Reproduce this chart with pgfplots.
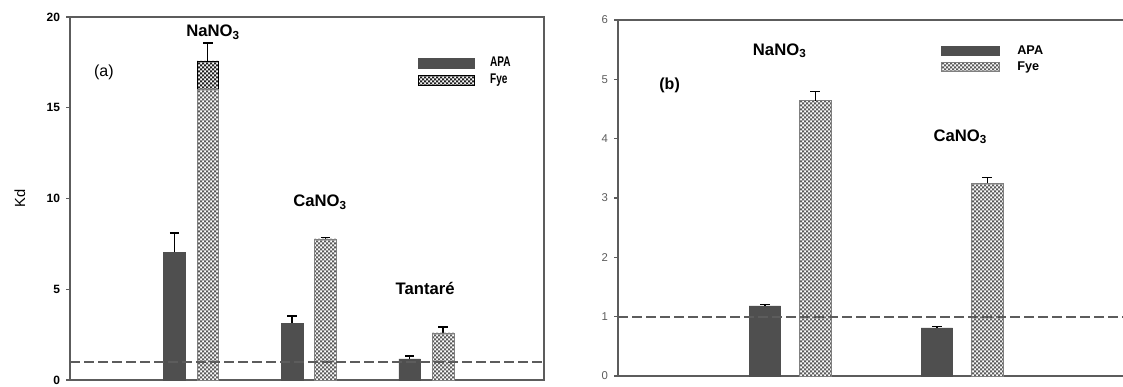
\documentclass[border=0pt]{standalone}
\usepackage{fontspec}
\setmainfont{Liberation Sans}
\newfontfamily\narrowsans[FakeStretch=0.72]{Liberation Sans}
\usepackage{pgfplots}
\pgfplotsset{compat=1.18}
\usetikzlibrary{patterns}

\definecolor{apa}{HTML}{4F4F4F}
\definecolor{axisgray}{HTML}{5C5C5C}
\definecolor{fyedot}{HTML}{5A5A5A}
\definecolor{fyedark}{HTML}{1E1E1E}

% fine checkerboard used for the Fye bars
\pgfdeclarepatternformonly{fyechecker}{\pgfpoint{-0.1pt}{-0.1pt}}{\pgfpoint{3.1pt}{3.1pt}}{\pgfpoint{3pt}{3pt}}{%
  \pgfpathrectangle{\pgfpointorigin}{\pgfpoint{1.5pt}{1.5pt}}%
  \pgfpathrectangle{\pgfpoint{1.5pt}{1.5pt}}{\pgfpoint{1.5pt}{1.5pt}}%
  \pgfusepath{fill}}

\pgfplotsset{
  kdpanel/.style={
    scale only axis,
    axis line style={axisgray, line width=1.2pt},
    xtick=\empty,
    ytick pos=left,
    tick align=outside,
    major tick length=3pt,
    tick style={axisgray, line width=0.8pt},
    ymin=0,
    clip=false,
    /pgf/number format/assume math mode=true,
    legend style={draw=none, fill=none, anchor=north west,
      inner sep=0pt, row sep=0pt,
      /tikz/every odd column/.append style={column sep=9.5pt}},
    legend cell align=left,
    error bars/y dir=plus,
    error bars/y explicit,
    error bars/error bar style={black, line width=0.9pt},
    error bars/error mark options={rotate=90, black, mark size=3.5pt, line width=0.9pt},
  },
  apabar/.style={ybar, bar shift=0pt, bar width=0.183, fill=apa, draw=apa},
  fyebar/.style={ybar, bar shift=0pt, bar width=0.183, draw=gray, line width=0.4pt,
    fill=white, postaction={pattern=fyechecker, pattern color=fyedot}},
  fyedarkbar/.style={ybar, bar shift=0pt, bar width=0.183, draw=black, line width=0.5pt,
    fill=white, postaction={pattern=fyechecker, pattern color=fyedark}},
  kline/.style={axisgray, line width=1.4pt, dash pattern=on 7.5pt off 3pt},
}

\begin{document}
\begin{tikzpicture}
\useasboundingbox (0pt,-2.5pt) rectangle (842.25pt,287.25pt);

% ---------------- panel (a) ----------------
\begin{axis}[kdpanel,
  at={(52.5pt,2.25pt)}, anchor=south west,
  width=355.5pt, height=272.25pt,
  xmin=-0.03, xmax=4, ymax=20,
  ytick={0,5,10,15,20},
  yticklabel style={font=\bfseries\fontsize{9}{10}\selectfont, xshift=-1pt},
  every axis y label/.style={at={(axis description cs:-0.1055,0.5)}, rotate=90, anchor=center},
  ylabel={Kd}, ylabel style={font=\fontsize{11}{13}\selectfont},
  legend style={at={(rel axis cs:0.734,0.897)},
    font=\narrowsans\bfseries\fontsize{10.5}{11}\selectfont},
  legend image code/.code={\draw[#1] (0pt,-3.75pt) rectangle (42pt,3.75pt);},
]
% APA bars sit left of each group centre, Fye bars right of it
\addplot[apabar] coordinates {
  (0.858,7.05) +- (0,1.05)
  (1.858,3.14) +- (0,0.39)
  (2.858,1.16) +- (0,0.16)
};
\addplot[fyedarkbar] coordinates {
  (1.142,17.58) +- (0,0.99)
  (2.142,7.77)  +- (0,0.10)
  (3.142,2.59)  +- (0,0.33)
};
\legend{APA, Fye}
% lighter body of the Fye bars below the dark top segment
\addplot[fyebar, forget plot] coordinates {
  (1.142,16.03) (2.142,7.77) (3.142,2.59)
};
\addplot[kline, forget plot] coordinates {(-0.03,1) (4,1)};
\node[font=\bfseries\fontsize{12.5}{14}\selectfont] at (axis cs:1.186,19.17) {NaNO\textsubscript{3}};
\node[font=\bfseries\fontsize{12.5}{14}\selectfont] at (axis cs:2.096,9.8) {CaNO\textsubscript{3}};
\node[font=\bfseries\fontsize{12.5}{14}\selectfont] at (axis cs:2.99,5.07) {Tantaré};
\node[font=\fontsize{12}{14}\selectfont] at (axis cs:0.258,16.97) {(a)};
\end{axis}

% ---------------- panel (b) ----------------
\begin{axis}[kdpanel,
  at={(463.5pt,5.25pt)}, anchor=south west,
  width=378.75pt, height=267pt,
  xmin=0, xmax=2.936, ymax=6,
  ytick={0,1,...,6},
  axis x line*=bottom, axis y line*=left,
  axis line style={-},
  yticklabel style={font=\fontsize{8.5}{10}\selectfont, text=axisgray, xshift=-1pt},
  legend style={at={(rel axis cs:0.64,0.937)},
    font=\bfseries\fontsize{9.5}{10}\selectfont,
    /tikz/every odd column/.append style={column sep=11pt}},
  legend image code/.code={\draw[#1] (0pt,-3.4pt) rectangle (43.5pt,3.4pt);},
]
\addplot[apabar] coordinates {
  (0.854,1.18) +- (0,0.03)
  (1.854,0.81) +- (0,0.02)
};
\addplot[fyebar] coordinates {
  (1.146,4.64) +- (0,0.16)
  (2.146,3.25) +- (0,0.09)
};
\legend{APA, Fye}
\addplot[kline, forget plot] coordinates {(0,1) (2.936,1)};
\draw[axisgray, line width=1.2pt] (rel axis cs:0,1) -- (rel axis cs:1,1);
\node[font=\bfseries\fontsize{12.5}{14}\selectfont] at (axis cs:0.94,5.48) {NaNO\textsubscript{3}};
\node[font=\bfseries\fontsize{12.5}{14}\selectfont] at (axis cs:1.99,4.03) {CaNO\textsubscript{3}};
\node[font=\bfseries\fontsize{12}{14}\selectfont] at (axis cs:0.30,4.9) {(b)};
\end{axis}
\end{tikzpicture}
\end{document}
